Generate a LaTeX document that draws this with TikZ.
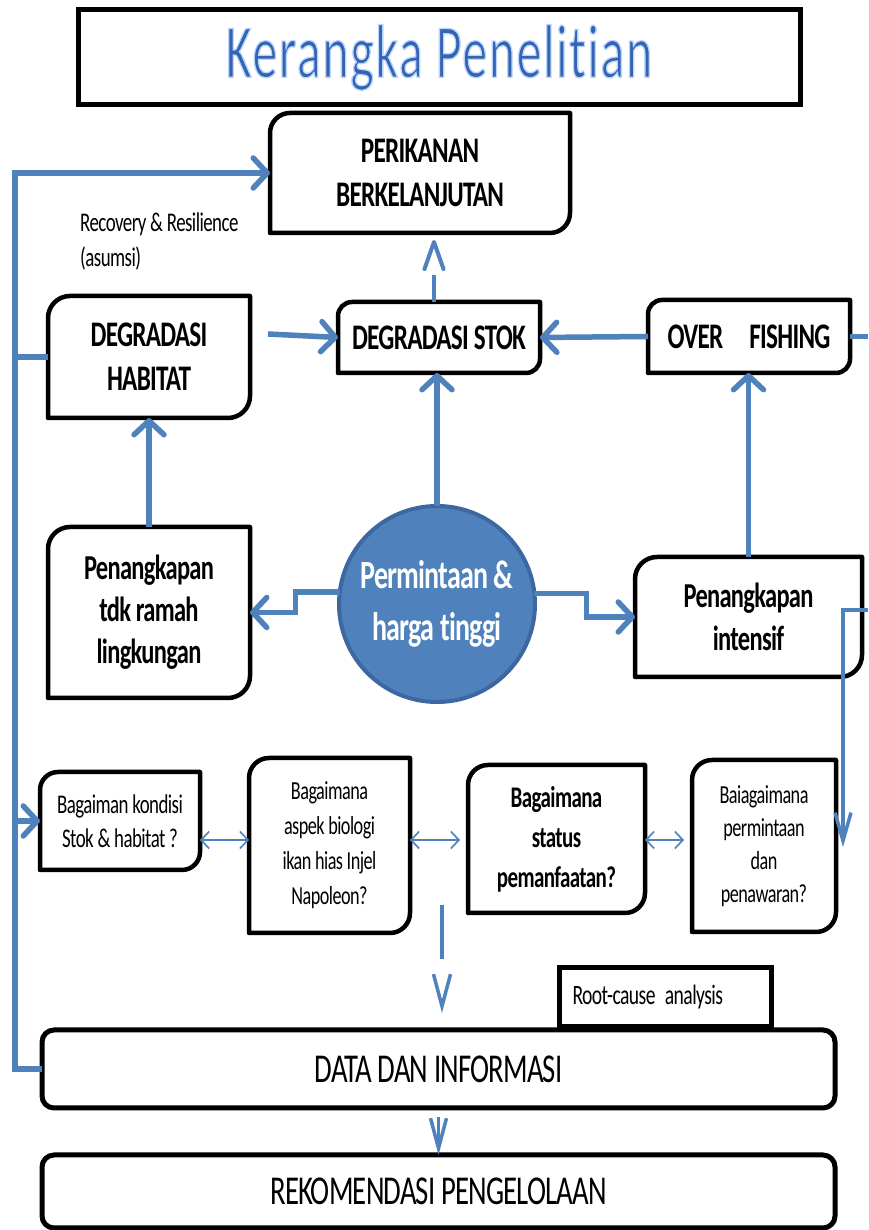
\documentclass[tikz,border=0pt]{standalone}
\usepackage{fontspec}
\setmainfont{Carlito}[FakeStretch=0.7,LetterSpace=-2,Ligatures=NoCommon]
\newfontfamily\titlefont{Carlito}[FakeStretch=0.66,LetterSpace=2,Ligatures=NoCommon]
\usetikzlibrary{arrows.meta,calc}
\definecolor{cblue}{HTML}{4F81BD}
\definecolor{cdark}{HTML}{3D67A0}
\definecolor{tblue}{HTML}{3463B5}
\newcommand\fsz[2]{\fontsize{#1}{#2}\selectfont}
% #1 style, #2 name, #3 x1, #4 y1, #5 x2, #6 y2, #7 radius, #8 text
\newcommand\dbox[8][]{%
  \node[boxtext,#1,minimum width={(#5)-(#3)},minimum height={(#6)-(#4)}] (#2)
    at ({((#3)+(#5))/2},{1230-((#4)+(#6))/2}) {#8};
  \draw[boxline] (#2.north east) -- ([yshift=#7]#2.south east)
    arc[start angle=0,end angle=-90,radius=#7] -- (#2.south west)
    -- ([yshift=-#7]#2.north west) arc[start angle=180,end angle=90,radius=#7] -- cycle;
}
\begin{document}
\begin{tikzpicture}[x=1pt,y=1pt,
  boxtext/.style={inner sep=0pt,outer sep=0pt,align=center,font=\bfseries\fsz{36}{44}},
  boxline/.style={draw=black,line width=4.5pt,line join=round},
  conn/.style={draw=cblue,line width=5.5pt,-{Straight Barb[length=14pt,width=30pt,round]}},
  plainline/.style={draw=cblue,line width=5.5pt},
  thinconn/.style={draw=cblue,line width=3.5pt,-{Straight Barb[length=28pt,width=16pt]}},
  dbl/.style={draw=cblue,line width=1.6pt,{Straight Barb[length=8pt,width=17pt]}-{Straight Barb[length=8pt,width=17pt]}},
  sqbox/.style={draw=black,line width=5pt,inner sep=0pt,outer sep=0pt}
]
\useasboundingbox (0,0) rectangle (868,1230);
\fill[white] (0,0) rectangle (868,1230);

% title
\node[sqbox,minimum width=722,minimum height=95] (title) at (439,1230-57.5)
  {\titlefont\fsz{76}{80}\color{tblue}\special{pdf:literal direct 2 Tr 1.3 w 0.72 0.84 0.99 RG}Kerangka Penelitian\special{pdf:literal direct 0 Tr}};

% boxes
\dbox{per}{270}{113}{570}{233}{20}{PERIKANAN\\BERKELANJUTAN}
\dbox{dh}{48}{296}{250}{418}{22}{DEGRADASI\\HABITAT}
\dbox{ds}{338}{302}{540}{373}{14}{DEGRADASI STOK}
\dbox{of}{648}{300}{850}{373}{14}{OVER\hspace{26pt}FISHING}
\dbox[font=\bfseries\fsz{35}{42}]{ptr}{48}{527}{250}{698}{22}{Penangkapan\\tdk ramah\\lingkungan}
\dbox[font=\bfseries\fsz{35}{43}]{pi}{635}{557}{862}{677}{22}{Penangkapan\\intensif}
\dbox[font=\fsz{27}{34}]{q1}{40}{772}{200}{870}{18}{Bagaiman kondisi\\Stok \& habitat ?}
\dbox[font=\fsz{26}{35}]{q2}{249}{758}{410}{933}{20}{Bagaimana\\aspek biologi\\ikan hias Injel\\Napoleon?}
\dbox[font=\bfseries\fsz{30}{40}]{q3}{468}{765}{645}{913}{20}{Bagaimana\\status\\pemanfaatan?}
\dbox[font=\fsz{26}{33}]{q4}{692}{760}{836}{932}{20}{Baiagaimana\\permintaan\\dan\\penawaran?}

\node[circle,fill=cblue,draw=cdark,line width=4pt,minimum size=196,inner sep=0pt,outer sep=0pt,
  text=white,align=center,font=\bfseries\fsz{40}{52}] (circ) at (437,1230-604)
  {Permintaan \&\\harga tinggi};

\node[anchor=north west,inner sep=0pt,align=left,font=\fsz{27}{35}] (rr) at (80,1230-213)
  {Recovery \& Resilience\\(asumsi)};

\node[sqbox,minimum width=212,minimum height=59,text width=185pt,align=left,font=\fsz{28}{30}] (rc)
  at (665,1230-997.5) {Root-cause~analysis};

\node[sqbox,rounded corners=12pt,minimum width=793,minimum height=78,font=\fsz{41}{44}] (data)
  at (438.5,1230-1069) {DATA DAN INFORMASI};
\node[sqbox,rounded corners=12pt,minimum width=793,minimum height=73,font=\fsz{41}{44}] (rek)
  at (438.5,1230-1191.5) {REKOMENDASI PENGELOLAAN};

% connectors
\draw[conn] (data.west) -- ++(-27,0) |- (per.west);
\draw[plainline] (dh.west) -- ++(-33,0);
\draw[conn] ([xshift=-25pt]q1.west) -- (q1.west);
\draw[conn] ([xshift=18pt,yshift=23pt]dh.east) -- (ds.west);
\coordinate (dsn) at ([xshift=-5pt]ds.north);
\draw[draw=cblue,line width=4pt,dash pattern=on 27pt off 80pt,
  -{Straight Barb[length=27pt,width=19pt,round]}] (dsn) -- ([yshift=-7pt]dsn |- per.south);
\draw[conn] (of.west) -- (ds.east);
\draw[plainline] (of.east) -- ++(18,0);
\draw[conn] (pi.north) -- (pi.north |- of.south);
\draw[conn] (circ.north) -- (circ.north |- ds.south);
\draw[conn] (circ.6.5) -- ++(52,0) |- (pi.west);
\draw[conn] (circ.173.5) -- ++(-44,0) |- (ptr.east);
\draw[conn] (ptr.north) -- (dh.south);
\coordinate (edgeR) at (868,1230-610);
\coordinate (q4in) at (843,1230-847);
\draw[thinconn] (edgeR) -- (843,1230-610) -- (q4in);
\coordinate (ya) at (0,1230-840);
\draw[dbl] (q1.east |- ya) -- (q2.west |- ya);
\draw[dbl,shorten >=8pt] (q2.east |- ya) -- (q3.west |- ya);
\draw[dbl,shorten >=8pt] (q3.east |- ya) -- (q4.west |- ya);
\coordinate (va) at (442,1230-905);
\coordinate (vb) at (442,1230-1013);
\draw[draw=cblue,line width=3.5pt,dash pattern=on 54pt off 100pt,
  -{Straight Barb[length=32pt,width=17pt]}] (va) -- (vb);
\draw[thinconn,-{Straight Barb[length=30pt,width=16pt]},shorten <=9pt] (data.south) -- (rek.north);
\end{tikzpicture}
\end{document}
